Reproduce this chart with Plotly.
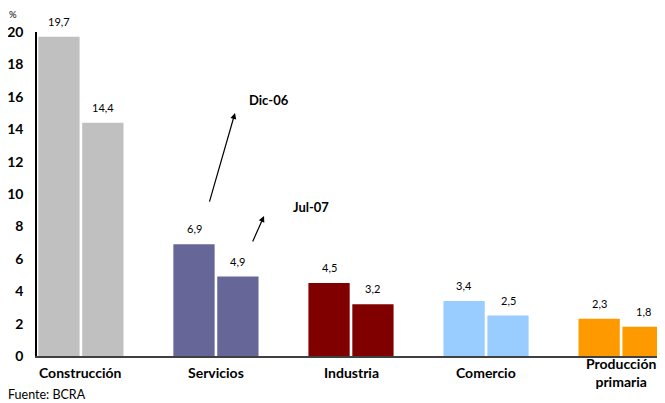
import plotly.graph_objects as go

categories = ["Construcción", "Servicios", "Industria", "Comercio", "Producción<br>primaria"]
dic06 = [19.7, 6.9, 4.5, 3.4, 2.3]
jul07 = [14.4, 4.9, 3.2, 2.5, 1.8]
colors = ["#C0C0C0", "#666699", "#800000", "#99CCFF", "#FF9900"]
yticks = [0, 2, 4, 6, 8, 10, 12, 14, 16, 18, 20]

FONT = "Lato"
OFF = 8  # page body margin

W, H = 665 - OFF, 403 - OFF
ML, MT, MB, MR = 37 - OFF, 32 - OFF, 47, 0

def fmt(v):
    return f"{v:.1f}".replace(".", ",")

xs = list(range(len(categories)))
fig = go.Figure()
for series, name in [(dic06, "Dic-06"), (jul07, "Jul-07")]:
    fig.add_trace(go.Bar(
        x=xs, y=series, name=name,
        marker=dict(color=colors, line=dict(width=0)),
    ))

plot_w = W - ML - MR
plot_h = H - MT - MB
def px(xp):
    return (xp - OFF - ML) / plot_w
def py(yp):
    return (H - MB - (yp - OFF)) / plot_h

annotations = []
# value labels
for k, series in enumerate([dic06, jul07]):
    shift = -0.1625 if k == 0 else 0.1625
    for i, v in enumerate(series):
        annotations.append(dict(x=i + shift, y=v, xref="x", yref="y", text=fmt(v),
                                showarrow=False, yanchor="bottom", yshift=7,
                                font=dict(family=FONT, size=11, color="#000000")))
for i, c in enumerate(categories):
    annotations.append(dict(x=i, y=py(372), xref="x", yref="paper", text=f"<b>{c}</b>",
                            showarrow=False, yanchor="middle", xanchor="center",
                            font=dict(family=FONT, size=14, color="#000000")))
annotations += [
    dict(x=1.141, y=15.0, ax=0.949, ay=9.44, xref="x", yref="y", axref="x", ayref="y",
         text="", showarrow=True, arrowhead=2, arrowsize=1, arrowwidth=1.2, arrowcolor="#000000"),
    dict(x=1.356, y=8.64, ax=1.267, ay=6.98, xref="x", yref="y", axref="x", ayref="y",
         text="", showarrow=True, arrowhead=2, arrowsize=1, arrowwidth=1.2, arrowcolor="#000000"),
    dict(x=1.393, y=15.8, xref="x", yref="y", text="<b>Dic-06</b>", showarrow=False,
         font=dict(family=FONT, size=13, color="#000000")),
    dict(x=1.704, y=9.2, xref="x", yref="y", text="<b>Jul-07</b>", showarrow=False,
         font=dict(family=FONT, size=13, color="#000000")),
    dict(x=px(13), y=py(14.5), xref="paper", yref="paper", text="%", showarrow=False,
         xanchor="center", yanchor="middle", borderpad=0,
         font=dict(family=FONT, size=9.5, color="#000000")),
    dict(x=px(6), y=py(394), xref="paper", yref="paper", text="Fuente: BCRA",
         showarrow=False, xanchor="left", yanchor="middle",
         font=dict(family=FONT, size=12.5, color="#000000")),
]

fig.update_layout(
    width=W, height=H,
    margin=dict(l=ML, r=MR, t=MT, b=MB, pad=0),
    paper_bgcolor="white", plot_bgcolor="white",
    barmode="group", bargap=0.35, bargroupgap=0.06,
    showlegend=False,
    font=dict(family=FONT, color="#000000"),
    xaxis=dict(range=[-0.325, 4.325], tickvals=xs, showticklabels=False,
               showline=True, linecolor="#404040", linewidth=1.5, showgrid=False, zeroline=False, fixedrange=True),
    yaxis=dict(range=[0, 20], tickvals=yticks, ticktext=[f"<b>{t}</b>" for t in yticks],
               tickfont=dict(family=FONT, size=14, color="#000000"), ticks="", ticklabelstandoff=9,
               showline=True, linecolor="#000000", linewidth=1.5, showgrid=False, zeroline=False, fixedrange=True),
    annotations=annotations,
)
fig.write_html("out.html")
